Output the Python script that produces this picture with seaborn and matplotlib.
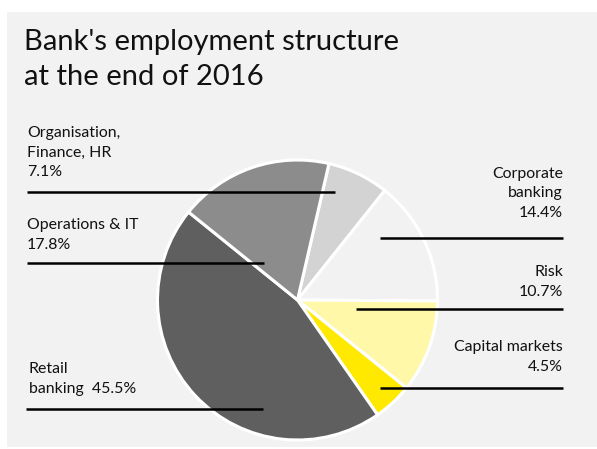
import matplotlib
matplotlib.use("Agg")
import matplotlib.pyplot as plt
from matplotlib.patches import Rectangle
from matplotlib.lines import Line2D
import seaborn as sns

# ---- data ----
categories = ["Organisation, Finance, HR", "Corporate banking", "Risk",
              "Capital markets", "Retail banking", "Operations & IT"]
shares = [7.1, 14.4, 10.7, 4.5, 45.5, 17.8]
label_lines = [["Organisation,", "Finance, HR", "{}"],
               ["Corporate", "banking", "{}"],
               ["Risk", "{}"],
               ["Capital markets", "{}"],
               ["Retail", "banking  {}"],
               ["Operations & IT", "{}"]]
slice_colors = ["#d3d3d3", "#f2f2f2", "#fff8a8", "#ffe900", "#5f5f5f", "#8c8c8c"]
title_lines = ["Bank's employment structure", "at the end of 2016"]

sns.set_theme(style="white")
plt.rcParams["font.family"] = ["Lato", "DejaVu Sans"]

W, H = 597, 449
fig = plt.figure(figsize=(W / 100, H / 100), dpi=100, facecolor="white")


def fx(x):
    return x / W


def fy(y):
    return 1 - y / H


# background panel
bg = fig.add_axes([0, 0, 1, 1], zorder=-5)
bg.set_xlim(0, W)
bg.set_ylim(H, 0)
bg.set_axis_off()
bg.add_patch(Rectangle((7, 12), 597 - 7, 447 - 12, facecolor="#f2f2f2",
                       edgecolor="none"))

# pie axes
cx, cy, r = 297.5, 300, 140
ax = fig.add_axes([fx(cx - r), fy(cy + r), 2 * r / W, 2 * r / H], zorder=0)
ax.pie(shares, colors=slice_colors, startangle=77, counterclock=False,
       wedgeprops=dict(edgecolor="white", linewidth=2.2))
ax.set_xlim(-1, 1)
ax.set_ylim(-1, 1)
ax.set_axis_off()
ax.patch.set_visible(False)

# overlay for leader lines and labels
ov = fig.add_axes([0, 0, 1, 1], zorder=5)
ov.set_xlim(0, W)
ov.set_ylim(H, 0)
ov.set_axis_off()
ov.patch.set_visible(False)

# layout: (text x, align, first baseline, line spacing, leader y, leader x0, leader x1)
layout = [
    (27, "left", 137.5, 19.3, 192, 27, 335),
    (563, "right", 178.3, 19.2, 237.5, 380, 563),
    (563, "right", 275.5, 20.3, 309, 356, 563),
    (563, "right", 351, 20, 388, 380, 563),
    (29, "left", 373.3, 20, 409, 26, 263),
    (27, "left", 228.5, 20.5, 263, 27, 264),
]

for lines, val, (tx, ha, b0, sp, ly, lx0, lx1) in zip(label_lines, shares, layout):
    for i, ln in enumerate(lines):
        ov.text(tx, b0 + i * sp, ln.format(f"{val:.1f}%"), ha=ha, va="baseline",
                fontsize=11.4, color="#111111")
    ov.add_line(Line2D([lx0, lx1], [ly, ly], color="black", linewidth=1.8,
                       solid_capstyle="butt"))

for i, t in enumerate(title_lines):
    ov.text(24, 50 + 35 * i, t, ha="left", va="baseline", fontsize=21,
            color="#111111")

fig.savefig("out.png", dpi=100, facecolor="white")
